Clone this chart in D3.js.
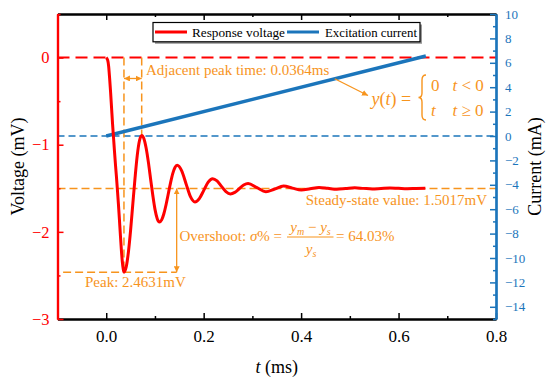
<!DOCTYPE html>
<html><head><meta charset="utf-8">
<script src="https://cdn.jsdelivr.net/npm/d3@7"></script>
<style>body{margin:0;background:#fff}svg{display:block}text{font-family:"Liberation Serif","Times New Roman",serif}</style>
</head><body><svg id="c" width="550" height="381"></svg>
<script>
// ---- data ----
const timeMs = [0,0.003,0.005,0.007,0.009,0.011,0.013,0.015,0.017,0.019,0.021,0.023,0.025,0.027,0.029,0.031,0.033,0.035,0.0364,
  0.0410,0.0455,0.0501,0.0546,0.0592,0.0637,0.0683,0.0728,
  0.0774,0.0819,0.0865,0.0910,0.0956,0.1001,0.1047,0.1092,
  0.1138,0.1183,0.1229,0.1274,0.1320,0.1365,0.1411,0.1456,
  0.1547,0.1638,0.1729,0.182,0.1911,0.2002,0.2093,0.2184,
  0.2275,0.2366,0.2457,0.2548,0.2639,0.273,0.2821,0.2912,
  0.3094,0.3276,0.3458,0.364,0.3822,0.4004,0.4186,0.4368,0.455,0.4732,0.4914,0.51,0.528,0.546,0.564,0.582,0.6,0.618,0.636,0.655];
const voltageMv = [0,-0.03,-0.1,-0.24,-0.4,-0.58,-0.76,-0.92,-1.08,-1.23,-1.37,-1.52,-1.68,-1.85,-2.03,-2.2,-2.34,-2.43,-2.4631,
  -2.403,-2.234,-1.978,-1.678,-1.378,-1.122,-0.952,-0.893,
  -0.931,-1.038,-1.200,-1.390,-1.580,-1.742,-1.849,-1.887,
  -1.862,-1.792,-1.686,-1.562,-1.438,-1.332,-1.262,-1.237,
  -1.298,-1.447,-1.596,-1.657,-1.618,-1.524,-1.429,-1.39,
  -1.416,-1.478,-1.539,-1.565,-1.547,-1.505,-1.463,-1.445,
  -1.493,-1.54,-1.508,-1.475,-1.498,-1.52,-1.505,-1.49,-1.50,-1.51,-1.503,-1.495,-1.501,-1.507,-1.502,-1.497,-1.501,-1.505,-1.502,-1.5];
const currentTime = [0, 0.656];
const currentMa = [0, 6.56];
const xTicks = [0, 0.2, 0.4, 0.6, 0.8];
const xMinor = [-0.1, 0.1, 0.3, 0.5, 0.7];
const vTicks = [0, -1, -2, -3];
const vMinor = [0.5, -0.5, -1.5, -2.5];
const iTicks = [10, 8, 6, 4, 2, 0, -2, -4, -6, -8, -10, -12, -14];
const iMinor = [9, 7, 5, 3, 1, -1, -3, -5, -7, -9, -11, -13, -15];
const steadyState = -1.5017;
const peakV = -2.4631, peakT = 0.0364;
const nextPeakV = -0.893, nextPeakT = 0.0728;
const overshootT = 0.1446;
const seriesNames = ["Response voltage", "Excitation current"];

// ---- setup ----
const RED = "#ff0000", BLUE = "#1b75bb", ORANGE = "#f7941d";
const svg = d3.select("#c");
const x = d3.scaleLinear([-0.1, 0.8], [57.5, 496]);
const yV = d3.scaleLinear([-3, 0.5], [319, 14]);
const yI = d3.scaleLinear([-15, 10], [319, 14]);

const defs = svg.append("defs");
defs.append("marker").attr("id", "arr").attr("viewBox", "0 0 10 10").attr("refX", 10).attr("refY", 5)
  .attr("markerWidth", 6).attr("markerHeight", 6).attr("markerUnits", "userSpaceOnUse")
  .attr("orient", "auto-start-reverse")
  .append("path").attr("d", "M0,0 L10,5 L0,10 z").attr("fill", ORANGE);

// ---- reference lines ----
const dash = (x1, y1, x2, y2, color, w, da) => svg.append("line")
  .attr("x1", x1).attr("y1", y1).attr("x2", x2).attr("y2", y2)
  .attr("stroke", color).attr("stroke-width", w).attr("stroke-dasharray", da);

dash(x(-0.1), yV(0), x(0.8), yV(0), RED, 2, "12,6");
dash(x(-0.1), yI(0), x(0.8), yI(0), BLUE, 1.5, "7,4");
dash(x(-0.1), yV(steadyState), x(0.8), yV(steadyState), ORANGE, 1.5, "8,4");
dash(x(-0.0885), yV(peakV), x(overshootT), yV(peakV), ORANGE, 1.5, "8,4");
dash(x(peakT), yV(0), x(peakT), yV(peakV), ORANGE, 1.5, "8,4");
dash(x(nextPeakT), yV(0), x(nextPeakT), yV(nextPeakV), ORANGE, 1.5, "8,4");

// ---- series ----
svg.append("path").datum(currentTime.map((t, i) => [t, currentMa[i]]))
  .attr("fill", "none").attr("stroke", BLUE).attr("stroke-width", 3.5)
  .attr("d", d3.line().x(d => x(d[0])).y(d => yI(d[1])));
svg.append("path").datum(timeMs.map((t, i) => [t, voltageMv[i]]))
  .attr("fill", "none").attr("stroke", RED).attr("stroke-width", 3).attr("stroke-linejoin", "round")
  .attr("d", d3.line().curve(d3.curveMonotoneX).x(d => x(d[0])).y(d => yV(d[1])));

// ---- annotations ----
const A = (x1, y1, x2, y2, both) => svg.append("line")
  .attr("x1", x1).attr("y1", y1).attr("x2", x2).attr("y2", y2)
  .attr("stroke", ORANGE).attr("stroke-width", 1.3)
  .attr("marker-end", "url(#arr)").attr("marker-start", both ? "url(#arr)" : null);
A(x(peakT), yV(-0.24), x(nextPeakT), yV(-0.24), true);
A(x(overshootT), yV(steadyState), x(overshootT), yV(peakV), true);
A(x(0.469), yI(4.69), 368, 95.5, false);

const T = (tx, ty, str, size, opts = {}) => svg.append("text").attr("x", tx).attr("y", ty)
  .attr("font-size", size).attr("fill", opts.fill || ORANGE).attr("text-anchor", opts.anchor || "start")
  .attr("font-style", opts.italic ? "italic" : null).text(str);

T(146, 74.5, "Adjacent peak time: 0.0364ms", 15);
T(487, 205, "Steady-state value: 1.5017mV", 15, {anchor: "end"});
T(85, 287, "Peak: 2.4631mV", 15);

// overshoot formula
const ov = svg.append("text").attr("x", 179.5).attr("y", 241).attr("font-size", 15).attr("fill", ORANGE);
ov.append("tspan").text("Overshoot: ");
ov.append("tspan").attr("font-style", "italic").text("σ");
ov.append("tspan").text("% =");
const num = svg.append("text").attr("x", 310.5).attr("y", 232).attr("font-size", 15).attr("fill", ORANGE).attr("text-anchor", "middle");
num.append("tspan").attr("font-style", "italic").text("y");
num.append("tspan").attr("font-style", "italic").attr("font-size", 10).attr("dy", 3).text("m");
num.append("tspan").attr("dy", -3).text(" − ");
num.append("tspan").attr("font-style", "italic").text("y");
num.append("tspan").attr("font-style", "italic").attr("font-size", 10).attr("dy", 3).text("s");
svg.append("line").attr("x1", 287).attr("x2", 333.5).attr("y1", 237).attr("y2", 237).attr("stroke", ORANGE).attr("stroke-width", 1);
const den = svg.append("text").attr("x", 311).attr("y", 253.5).attr("font-size", 15).attr("fill", ORANGE).attr("text-anchor", "middle");
den.append("tspan").attr("font-style", "italic").text("y");
den.append("tspan").attr("font-style", "italic").attr("font-size", 10).attr("dy", 3).text("s");
T(336, 241, "= 64.03%", 15);

// y(t) equation
const eq = svg.append("text").attr("x", 371.5).attr("y", 105).attr("font-size", 18).attr("fill", ORANGE);
eq.append("tspan").attr("font-style", "italic").text("y");
eq.append("tspan").text("(");
eq.append("tspan").attr("font-style", "italic").text("t");
eq.append("tspan").text(") =");
svg.append("path").attr("d", "M426,75 Q422,75 422,80 L422,93 Q422,97.5 418.5,97.5 Q422,97.5 422,102 L422,115 Q422,120 426,120")
  .attr("fill", "none").attr("stroke", ORANGE).attr("stroke-width", 1.4);
T(431, 91, "0", 17);
const r1 = svg.append("text").attr("x", 452.5).attr("y", 91).attr("font-size", 17).attr("fill", ORANGE);
r1.append("tspan").attr("font-style", "italic").text("t");
r1.append("tspan").text(" < 0");
T(431, 116, "t", 17, {italic: true});
const r2 = svg.append("text").attr("x", 452.5).attr("y", 116).attr("font-size", 17).attr("fill", ORANGE);
r2.append("tspan").attr("font-style", "italic").text("t");
r2.append("tspan").text(" ≥ 0");

// ---- axes ----
function styleAxis(g, color, w, fsize) {
  g.select(".domain").attr("stroke", color).attr("stroke-width", w);
  g.selectAll(".tick line").attr("stroke", color).attr("stroke-width", 1.5);
  g.selectAll(".tick text").attr("fill", color).attr("font-size", fsize)
    .attr("font-family", '"Liberation Serif","Times New Roman",serif');
}
// bottom
let g = svg.append("g").attr("transform", "translate(0,319)")
  .call(d3.axisBottom(x).tickValues(xTicks).tickSizeInner(-6).tickSizeOuter(0).tickPadding(11).tickFormat(d3.format(".1f")));
styleAxis(g, "#000", 2, 17);
g = svg.append("g").attr("transform", "translate(0,319)")
  .call(d3.axisBottom(x).tickValues(xMinor).tickSizeInner(-3).tickSizeOuter(0).tickFormat(""));
styleAxis(g, "#000", 2, 17);
// top
g = svg.append("g").attr("transform", "translate(0,14)")
  .call(d3.axisTop(x).tickValues(xTicks).tickSizeInner(-6).tickSizeOuter(0).tickFormat(""));
styleAxis(g, "#000", 2, 17);
g = svg.append("g").attr("transform", "translate(0,14)")
  .call(d3.axisTop(x).tickValues(xMinor).tickSizeInner(-3).tickSizeOuter(0).tickFormat(""));
styleAxis(g, "#000", 2, 17);
// left
g = svg.append("g").attr("transform", "translate(57.5,0)")
  .call(d3.axisLeft(yV).tickValues(vTicks).tickSizeInner(-6).tickSizeOuter(0).tickPadding(8).tickFormat(d3.format("d")));
styleAxis(g, RED, 2.2, 16.5);
g = svg.append("g").attr("transform", "translate(57.5,0)")
  .call(d3.axisLeft(yV).tickValues(vMinor).tickSizeInner(-3).tickSizeOuter(0).tickFormat(""));
styleAxis(g, RED, 2.2, 16.5);
// right
g = svg.append("g").attr("transform", "translate(496,0)")
  .call(d3.axisRight(yI).tickValues(iTicks).tickSizeInner(-6).tickSizeOuter(0).tickPadding(9).tickFormat(d3.format("d")));
styleAxis(g, BLUE, 2.2, 13);
g = svg.append("g").attr("transform", "translate(496,0)")
  .call(d3.axisRight(yI).tickValues(iMinor).tickSizeInner(-3).tickSizeOuter(0).tickFormat(""));
styleAxis(g, BLUE, 2.2, 13);

// axis titles
svg.append("text").attr("transform", "translate(24,166.5) rotate(-90)").attr("text-anchor", "middle")
  .attr("font-size", 18).attr("fill", "#000").text("Voltage (mV)");
svg.append("text").attr("transform", "translate(541,166.5) rotate(-90)").attr("text-anchor", "middle")
  .attr("font-size", 18).attr("fill", "#000").text("Current (mA)");
const xt = svg.append("text").attr("x", 276.7).attr("y", 373).attr("text-anchor", "middle").attr("font-size", 18).attr("fill", "#000");
xt.append("tspan").attr("font-style", "italic").text("t");
xt.append("tspan").text(" (ms)");

// ---- legend ----
const lg = svg.append("g");
lg.append("rect").attr("x", 155).attr("y", 24.5).attr("width", 267).attr("height", 19.3).attr("fill", "#999");
lg.append("rect").attr("x", 153).attr("y", 22.5).attr("width", 267).attr("height", 19.3).attr("fill", "#fff").attr("stroke", "#000").attr("stroke-width", 1.2);
lg.append("line").attr("x1", 155).attr("x2", 187).attr("y1", 32).attr("y2", 32).attr("stroke", RED).attr("stroke-width", 3);
lg.append("text").attr("x", 192).attr("y", 36.5).attr("font-size", 13).attr("fill", "#000")
  .attr("textLength", 93).attr("lengthAdjust", "spacingAndGlyphs").text(seriesNames[0]);
lg.append("line").attr("x1", 287).attr("x2", 319).attr("y1", 32).attr("y2", 32).attr("stroke", BLUE).attr("stroke-width", 3);
lg.append("text").attr("x", 325).attr("y", 36.5).attr("font-size", 13).attr("fill", "#000")
  .attr("textLength", 92).attr("lengthAdjust", "spacingAndGlyphs").text(seriesNames[1]);
</script></body></html>
